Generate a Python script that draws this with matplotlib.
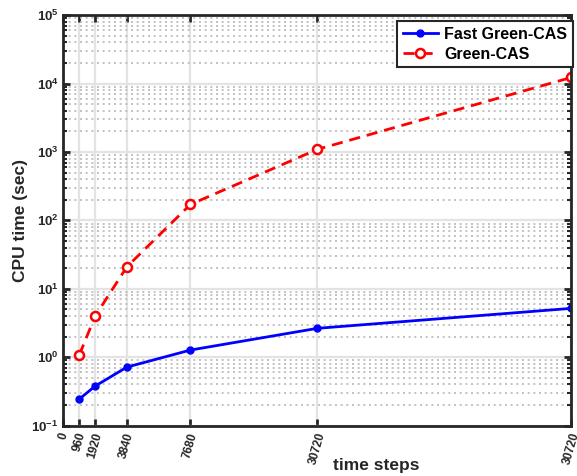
import matplotlib.pyplot as plt
from matplotlib.ticker import LogLocator, NullFormatter

plt.rcParams['font.family'] = ['Liberation Sans', 'DejaVu Sans']
plt.rcParams['font.weight'] = 'bold'
plt.rcParams['mathtext.fontset'] = 'custom'
plt.rcParams['mathtext.rm'] = 'Liberation Sans:bold'
plt.rcParams['mathtext.default'] = 'rm'

# x positions are plotted by index, labelled with the time step counts
x_pos = [1, 2, 4, 8, 16, 32]
tick_pos = [0, 1, 2, 4, 8, 16, 32]
tick_labels = ['0', '960', '1920', '3840', '7680', '30720', '30720']

fast_green_cas = [0.244, 0.378, 0.716, 1.27, 2.64, 5.17]
green_cas = [1.08, 4.0, 21.0, 171, 1092, 12300]

fig = plt.figure(figsize=(5.77, 4.76), dpi=100)
ax = fig.add_axes([0.110, 0.106, 0.880, 0.862])

ax.plot(x_pos, fast_green_cas, '-o', color='#0000ff', lw=2, ms=5,
        label='Fast Green-CAS')
ax.plot(x_pos, green_cas, '--o', color='#ff0000', lw=2, ms=6.5,
        mfc='white', mew=1.8, dashes=(4, 2.5), label='Green-CAS')

ax.set_yscale('log')
ax.set_ylim(0.1, 1e5)
ax.set_xlim(0, 32)
ax.yaxis.set_major_locator(LogLocator(base=10, numticks=10))
ax.yaxis.set_minor_locator(LogLocator(base=10, subs=range(2, 10), numticks=10))
ax.yaxis.set_minor_formatter(NullFormatter())
ax.set_xticks(tick_pos)
ax.set_xticklabels(tick_labels, rotation=74, ha='center', va='top',
                   fontsize=8.5)

ax.grid(True, which='major', axis='both', color='#e3e3e3', lw=1.6, ls='-')
ax.grid(True, which='minor', axis='y', color='#b8b8b8', lw=1.2, ls=(0, (1.2, 2.2)))
ax.set_axisbelow(True)

for s in ax.spines.values():
    s.set_linewidth(2)
    s.set_color('#262626')
ax.tick_params(which='both', direction='in', top=True, right=True,
               colors='#262626')
ax.tick_params(axis='y', labelsize=9.5)
ax.tick_params(which='major', length=5, width=2)
ax.tick_params(which='minor', length=3, width=1.5)
ax.tick_params(axis='x', pad=4)

ax.set_ylabel('CPU time (sec)', fontsize=12.5, fontweight='bold', color='#262626')
ax.set_xlabel('time steps', fontsize=12.5, fontweight='bold', color='#262626')
ax.yaxis.set_label_coords(-0.07, 0.5)
ax.xaxis.set_label_coords(0.616, -0.08)

leg = ax.legend(loc='upper right', bbox_to_anchor=(1.003, 0.985),
                borderaxespad=0, fontsize=11.5, handlelength=2.2,
                fancybox=False, framealpha=1, edgecolor='#262626',
                borderpad=0.35, labelspacing=0.3, handletextpad=0.4)
leg.get_frame().set_linewidth(1.5)

fig.savefig('out.png', dpi=100)
